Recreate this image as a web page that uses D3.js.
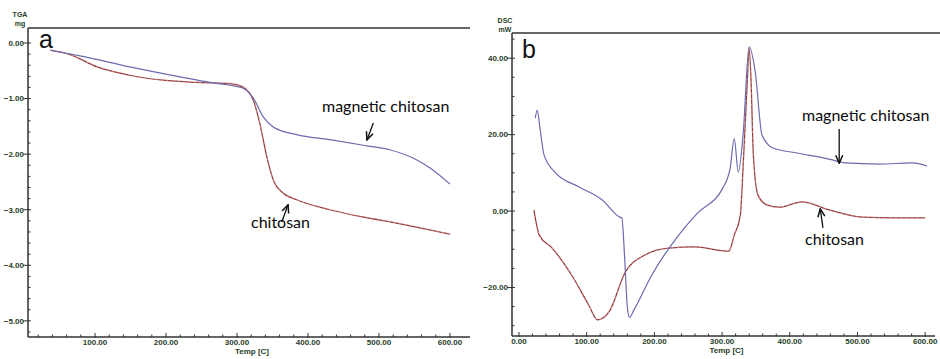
<!DOCTYPE html>
<html>
<head>
<meta charset="utf-8">
<script src="https://cdn.jsdelivr.net/npm/d3@7"></script>
<style>
  body { margin: 0; background: #fff; }
  .tick-label { font-family: "Liberation Sans", Arial, sans-serif; font-weight: bold; font-size: 8px; fill: #1f401f; }
  .note { font-family: Lato, "Open Sans", sans-serif; font-size: 16px; fill: #0a0a0a; }
  .panel-letter { font-family: "Liberation Sans", Arial, sans-serif; font-size: 25px; fill: #111; }
</style>
</head>
<body>
<script>
// TGA (mass in mg vs temperature)
var tgaMagTemp = [37, 79, 149, 220, 262, 290, 308, 323, 337, 351, 384, 431, 483, 515, 548, 572, 600];
var tgaMagMass = [-0.13, -0.23, -0.43, -0.61, -0.71, -0.76, -0.81, -0.99, -1.33, -1.51, -1.65, -1.74, -1.85, -1.92, -2.07, -2.25, -2.54];
var tgaChiTemp = [37, 65, 103, 149, 196, 243, 290, 308, 323, 332, 342, 351, 365, 384, 431, 477, 525, 600];
var tgaChiMass = [-0.13, -0.21, -0.43, -0.58, -0.67, -0.71, -0.73, -0.79, -1.03, -1.44, -2.05, -2.46, -2.70, -2.82, -3.0, -3.13, -3.24, -3.44];

// DSC (heat flow in mW vs temperature)
var dscMagTemp = [24, 27, 31, 37, 53, 89, 123, 149, 152, 156, 160, 163, 170, 196, 236, 264, 301, 312, 318, 324, 331, 340, 349, 359, 375, 411, 458, 482, 532, 581, 603];
var dscMagHeat = [24.3, 26.4, 21.7, 14.7, 10.2, 6.3, 2.9, -1.6, -1.8, -12, -25, -27.8, -25.8, -16.8, -6.3, -0.5, 6.0, 11.3, 18.9, 10.2, 19.9, 43, 36.4, 19.9, 16.5, 15.2, 13.6, 12.6, 12.3, 12.6, 11.8];
var dscChiTemp = [22, 30, 49, 78, 103, 116, 133, 157, 186, 221, 260, 310, 318, 327, 331, 337, 340, 343, 346, 353, 366, 384, 418, 458, 507, 556, 600];
var dscChiHeat = [0.3, -6.3, -9.7, -16.8, -24.6, -28.5, -26.4, -16, -11.5, -9.7, -9.4, -10.5, -6.3, -1, 11.3, 33, 42.7, 33, 15.4, 4.2, 1.6, 1.0, 2.4, 0.3, -1.6, -1.8, -1.8];

// tick values
var tgaXTicks = [100, 200, 300, 400, 500, 600];
var tgaYTicks = [0, -1, -2, -3, -4, -5];
var dscXTicks = [0, 100, 200, 300, 400, 500, 600];
var dscYTicks = [40, 20, 0, -20];

var width = 940, height = 359;
var svg = d3.select("body").append("svg")
    .attr("width", width)
    .attr("height", height);

var defs = svg.append("defs");
defs.append("marker")
    .attr("id", "arrow")
    .attr("viewBox", "0 0 10 10")
    .attr("refX", 9).attr("refY", 5)
    .attr("markerUnits", "userSpaceOnUse")
    .attr("markerWidth", 10).attr("markerHeight", 10)
    .attr("orient", "auto-start-reverse")
    .append("path")
    .attr("d", "M1,1.5 L9,5 L1,8.5")
    .attr("fill", "none")
    .attr("stroke", "#111")
    .attr("stroke-width", 1.5);

var fmt = d3.format(".2f");
var blue = "#6b6bb0";

function zip(xs, ys) {
    return xs.map(function (x, i) { return [x, ys[i]]; });
}

// Draws the frame, ticks and labels of one panel
function drawAxes(g, x, y, xTicks, yTicks, xMinor, yMinor) {
    var x0 = x.range()[0], x1 = x.range()[1];
    var y0 = y.range()[0], y1 = y.range()[1];

    g.append("line").attr("x1", x0).attr("x2", x0).attr("y1", y0).attr("y2", y1)
        .attr("stroke", "#333").attr("stroke-width", 1.5);
    g.append("line").attr("x1", x0).attr("x2", x1).attr("y1", y1).attr("y2", y1)
        .attr("stroke", "#333").attr("stroke-width", 1.5);
    g.append("line").attr("x1", x0).attr("x2", x1).attr("y1", y0).attr("y2", y0)
        .attr("stroke", "#333").attr("stroke-width", 1.5);

    // minor ticks
    g.selectAll(".xminor").data(xMinor).enter().append("line")
        .attr("x1", function (d) { return x(d); }).attr("x2", function (d) { return x(d); })
        .attr("y1", y1).attr("y2", y1 - 2.5)
        .attr("stroke", "#333").attr("stroke-width", 1);
    g.selectAll(".yminor").data(yMinor).enter().append("line")
        .attr("x1", x0).attr("x2", x0 + 2.5)
        .attr("y1", function (d) { return y(d); }).attr("y2", function (d) { return y(d); })
        .attr("stroke", "#333").attr("stroke-width", 1);

    // major ticks + labels
    g.selectAll(".xmajor").data(xTicks).enter().append("line")
        .attr("x1", function (d) { return x(d); }).attr("x2", function (d) { return x(d); })
        .attr("y1", y1 + 1).attr("y2", y1 - 4)
        .attr("stroke", "#333").attr("stroke-width", 1);
    g.selectAll(".xlab").data(xTicks).enter().append("text")
        .attr("class", "tick-label")
        .attr("x", function (d) { return x(d); })
        .attr("y", y1 + 8)
        .attr("text-anchor", "middle")
        .text(fmt);

    g.selectAll(".ymajor").data(yTicks).enter().append("line")
        .attr("x1", x0 - 5).attr("x2", x0 + 3)
        .attr("y1", function (d) { return y(d); }).attr("y2", function (d) { return y(d); })
        .attr("stroke", "#333").attr("stroke-width", 1);
    g.selectAll(".ylab").data(yTicks).enter().append("text")
        .attr("class", "tick-label")
        .attr("x", x0 - 4)
        .attr("y", function (d) { return y(d); })
        .attr("dy", "0.35em")
        .attr("text-anchor", "end")
        .text(fmt);

    g.append("text").attr("class", "tick-label")
        .attr("x", (x0 + x1) / 2 + 3).attr("y", y1 + 17)
        .attr("text-anchor", "middle")
        .text("Temp  [C]");
}

function drawCurve(g, x, y, pts, kind) {
    var line = d3.line()
        .x(function (d) { return x(d[0]); })
        .y(function (d) { return y(d[1]); })
        .curve(d3.curveMonotoneX);
    if (kind === "blue") {
        g.append("path").datum(pts).attr("d", line)
            .attr("fill", "none").attr("stroke", blue).attr("stroke-width", 1.2);
    } else {
        g.append("path").datum(pts).attr("d", line)
            .attr("fill", "none").attr("stroke", "#9a3a3a").attr("stroke-width", 1.25);
        g.append("path").datum(pts).attr("d", line)
            .attr("fill", "none").attr("stroke", "#d6b0b0").attr("stroke-width", 0.8)
            .attr("stroke-dasharray", "1.5,4");
    }
}

function arrow(g, x1, y1, x2, y2) {
    g.append("line")
        .attr("x1", x1).attr("y1", y1).attr("x2", x2).attr("y2", y2)
        .attr("stroke", "#111").attr("stroke-width", 1.3)
        .attr("marker-end", "url(#arrow)");
}

// ---------- Panel a : TGA ----------
var xA = d3.scaleLinear().domain([5.6, 628.2]).range([28, 470]);
var yA = d3.scaleLinear().domain([0.27, -5.29]).range([28, 337]);
var gA = svg.append("g");

drawAxes(gA, xA, yA, tgaXTicks, tgaYTicks,
    d3.range(20, 620, 20).filter(function (d) { return d % 100 !== 0; }),
    d3.range(0, -5.3, -0.2).filter(function (d) { return Math.abs(d - Math.round(d)) > 0.01; }));

gA.append("text").attr("class", "tick-label").attr("x", 20).attr("y", 17)
    .attr("text-anchor", "middle").style("font-size", "7px").text("TGA");
gA.append("text").attr("class", "tick-label").attr("x", 20).attr("y", 26)
    .attr("text-anchor", "middle").style("font-size", "7px").text("mg");

gA.append("text").attr("class", "panel-letter").attr("x", 39).attr("y", 48).text("a");

drawCurve(gA, xA, yA, zip(tgaChiTemp, tgaChiMass), "red");
drawCurve(gA, xA, yA, zip(tgaMagTemp, tgaMagMass), "blue");

gA.append("text").attr("class", "note").attr("x", 322).attr("y", 112).text("magnetic chitosan");
arrow(gA, xA(492), yA(-1.44), xA(483), yA(-1.745));
gA.append("text").attr("class", "note").attr("x", 251).attr("y", 228).text("chitosan");
arrow(gA, xA(363), yA(-3.22), xA(372), yA(-2.91));

// ---------- Panel b : DSC ----------
var xB = d3.scaleLinear().domain([-10.3, 614.5]).range([512, 935]);
var yB = d3.scaleLinear().domain([46.6, -32.7]).range([33, 336]);
var gB = svg.append("g");

drawAxes(gB, xB, yB, dscXTicks, dscYTicks,
    d3.range(20, 620, 20).filter(function (d) { return d % 100 !== 0; }),
    d3.range(45, -33, -5).filter(function (d) { return d % 20 !== 0; }));
// no right border on this panel: cover it
gB.append("line").attr("x1", 935).attr("x2", 935).attr("y1", 34).attr("y2", 335)
    .attr("stroke", "#fff").attr("stroke-width", 2);
gB.append("line").attr("x1", 935).attr("x2", 940).attr("y1", 33).attr("y2", 33)
    .attr("stroke", "#333").attr("stroke-width", 1.5);

gB.append("text").attr("class", "tick-label").attr("x", 505).attr("y", 23)
    .attr("text-anchor", "middle").style("font-size", "7px").text("DSC");
gB.append("text").attr("class", "tick-label").attr("x", 505).attr("y", 32)
    .attr("text-anchor", "middle").style("font-size", "7px").text("mW");

gB.append("text").attr("class", "panel-letter").attr("x", 522).attr("y", 58).text("b");

drawCurve(gB, xB, yB, zip(dscChiTemp, dscChiHeat), "red");
drawCurve(gB, xB, yB, zip(dscMagTemp, dscMagHeat), "blue");

gB.append("text").attr("class", "note").attr("x", 802).attr("y", 121).text("magnetic chitosan");
arrow(gB, xB(473), yB(21.5), xB(473), yB(12.5));
gB.append("text").attr("class", "note").attr("x", 805).attr("y", 245).text("chitosan");
arrow(gB, xB(449), yB(-4.4), xB(445), yB(0.6));
</script>
</body>
</html>
